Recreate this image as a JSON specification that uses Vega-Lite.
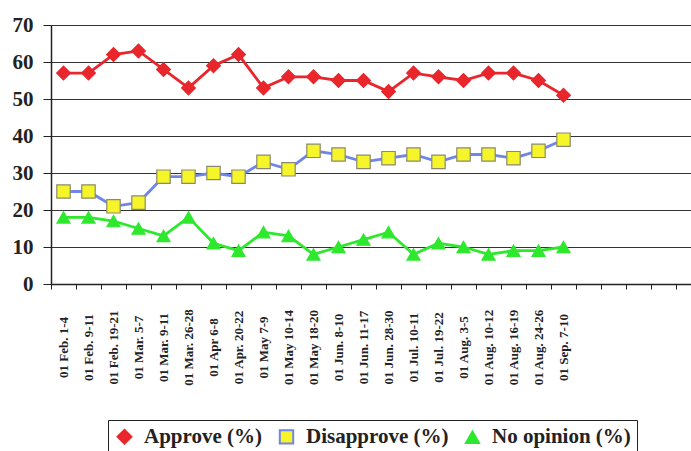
{
  "$schema": "https://vega.github.io/schema/vega-lite/v6.json",
  "width": 640,
  "height": 259,
  "autosize": {"type": "none"},
  "padding": {"left": 51, "top": 25, "right": 0, "bottom": 167},
  "background": "white",
  "config": {"view": {"stroke": null}, "font": "Liberation Serif"},
  "data": {"values": [
    {"date": "01 Feb. 1-4", "series": "Approve (%)", "value": 57},
    {"date": "01 Feb. 9-11", "series": "Approve (%)", "value": 57},
    {"date": "01 Feb. 19-21", "series": "Approve (%)", "value": 62},
    {"date": "01 Mar. 5-7", "series": "Approve (%)", "value": 63},
    {"date": "01 Mar. 9-11", "series": "Approve (%)", "value": 58},
    {"date": "01 Mar. 26-28", "series": "Approve (%)", "value": 53},
    {"date": "01 Apr 6-8", "series": "Approve (%)", "value": 59},
    {"date": "01 Apr. 20-22", "series": "Approve (%)", "value": 62},
    {"date": "01 May 7-9", "series": "Approve (%)", "value": 53},
    {"date": "01 May 10-14", "series": "Approve (%)", "value": 56},
    {"date": "01 May 18-20", "series": "Approve (%)", "value": 56},
    {"date": "01 Jun. 8-10", "series": "Approve (%)", "value": 55},
    {"date": "01 Jun. 11-17", "series": "Approve (%)", "value": 55},
    {"date": "01 Jun. 28-30", "series": "Approve (%)", "value": 52},
    {"date": "01 Jul. 10-11", "series": "Approve (%)", "value": 57},
    {"date": "01 Jul. 19-22", "series": "Approve (%)", "value": 56},
    {"date": "01 Aug. 3-5", "series": "Approve (%)", "value": 55},
    {"date": "01 Aug. 10-12", "series": "Approve (%)", "value": 57},
    {"date": "01 Aug. 16-19", "series": "Approve (%)", "value": 57},
    {"date": "01 Aug. 24-26", "series": "Approve (%)", "value": 55},
    {"date": "01 Sep. 7-10", "series": "Approve (%)", "value": 51},
    {"date": "01 Feb. 1-4", "series": "Disapprove (%)", "value": 25},
    {"date": "01 Feb. 9-11", "series": "Disapprove (%)", "value": 25},
    {"date": "01 Feb. 19-21", "series": "Disapprove (%)", "value": 21},
    {"date": "01 Mar. 5-7", "series": "Disapprove (%)", "value": 22},
    {"date": "01 Mar. 9-11", "series": "Disapprove (%)", "value": 29},
    {"date": "01 Mar. 26-28", "series": "Disapprove (%)", "value": 29},
    {"date": "01 Apr 6-8", "series": "Disapprove (%)", "value": 30},
    {"date": "01 Apr. 20-22", "series": "Disapprove (%)", "value": 29},
    {"date": "01 May 7-9", "series": "Disapprove (%)", "value": 33},
    {"date": "01 May 10-14", "series": "Disapprove (%)", "value": 31},
    {"date": "01 May 18-20", "series": "Disapprove (%)", "value": 36},
    {"date": "01 Jun. 8-10", "series": "Disapprove (%)", "value": 35},
    {"date": "01 Jun. 11-17", "series": "Disapprove (%)", "value": 33},
    {"date": "01 Jun. 28-30", "series": "Disapprove (%)", "value": 34},
    {"date": "01 Jul. 10-11", "series": "Disapprove (%)", "value": 35},
    {"date": "01 Jul. 19-22", "series": "Disapprove (%)", "value": 33},
    {"date": "01 Aug. 3-5", "series": "Disapprove (%)", "value": 35},
    {"date": "01 Aug. 10-12", "series": "Disapprove (%)", "value": 35},
    {"date": "01 Aug. 16-19", "series": "Disapprove (%)", "value": 34},
    {"date": "01 Aug. 24-26", "series": "Disapprove (%)", "value": 36},
    {"date": "01 Sep. 7-10", "series": "Disapprove (%)", "value": 39},
    {"date": "01 Feb. 1-4", "series": "No opinion (%)", "value": 18},
    {"date": "01 Feb. 9-11", "series": "No opinion (%)", "value": 18},
    {"date": "01 Feb. 19-21", "series": "No opinion (%)", "value": 17},
    {"date": "01 Mar. 5-7", "series": "No opinion (%)", "value": 15},
    {"date": "01 Mar. 9-11", "series": "No opinion (%)", "value": 13},
    {"date": "01 Mar. 26-28", "series": "No opinion (%)", "value": 18},
    {"date": "01 Apr 6-8", "series": "No opinion (%)", "value": 11},
    {"date": "01 Apr. 20-22", "series": "No opinion (%)", "value": 9},
    {"date": "01 May 7-9", "series": "No opinion (%)", "value": 14},
    {"date": "01 May 10-14", "series": "No opinion (%)", "value": 13},
    {"date": "01 May 18-20", "series": "No opinion (%)", "value": 8},
    {"date": "01 Jun. 8-10", "series": "No opinion (%)", "value": 10},
    {"date": "01 Jun. 11-17", "series": "No opinion (%)", "value": 12},
    {"date": "01 Jun. 28-30", "series": "No opinion (%)", "value": 14},
    {"date": "01 Jul. 10-11", "series": "No opinion (%)", "value": 8},
    {"date": "01 Jul. 19-22", "series": "No opinion (%)", "value": 11},
    {"date": "01 Aug. 3-5", "series": "No opinion (%)", "value": 10},
    {"date": "01 Aug. 10-12", "series": "No opinion (%)", "value": 8},
    {"date": "01 Aug. 16-19", "series": "No opinion (%)", "value": 9},
    {"date": "01 Aug. 24-26", "series": "No opinion (%)", "value": 9},
    {"date": "01 Sep. 7-10", "series": "No opinion (%)", "value": 10}
  ]},
  "encoding": {
    "x": {
      "field": "date",
      "type": "nominal",
      "scale": {
        "type": "band",
        "domain": ["01 Feb. 1-4", "01 Feb. 9-11", "01 Feb. 19-21", "01 Mar. 5-7", "01 Mar. 9-11", "01 Mar. 26-28", "01 Apr 6-8", "01 Apr. 20-22", "01 May 7-9", "01 May 10-14", "01 May 18-20", "01 Jun. 8-10", "01 Jun. 11-17", "01 Jun. 28-30", "01 Jul. 10-11", "01 Jul. 19-22", "01 Aug. 3-5", "01 Aug. 10-12", "01 Aug. 16-19", "01 Aug. 24-26", "01 Sep. 7-10", " ", "  ", "   ", "    "],
        "paddingInner": 0,
        "paddingOuter": 0.3,
        "align": 0
      },
      "axis": {
        "title": null,
        "labelAngle": 270,
        "labelAlign": "center",
        "labelBaseline": "middle",
        "labelPadding": 58,
        "labelFont": "Liberation Serif",
        "labelFontWeight": "bold",
        "labelFontSize": 13,
        "labelColor": "#222",
        "tickBand": "extent",
        "tickSize": 5,
        "tickColor": "#222",
        "domainColor": "#222",
        "domainWidth": 1.5,
        "labelOverlap": false,
        "grid": false
      }
    },
    "y": {
      "field": "value",
      "type": "quantitative",
      "scale": {"domain": [0, 70], "nice": false, "zero": true},
      "axis": {
        "title": null,
        "values": [0, 10, 20, 30, 40, 50, 60, 70],
        "labelFont": "Liberation Serif",
        "labelFontWeight": "bold",
        "labelFontSize": 21,
        "labelColor": "#222",
        "labelPadding": 10,
        "tickSize": 8,
        "tickColor": "#222",
        "domainColor": "#222",
        "domainWidth": 1.5,
        "grid": true,
        "gridColor": "#333",
        "gridWidth": 1.2
      }
    }
  },
  "layer": [
    {
      "mark": {"type": "line", "strokeWidth": 2.8},
      "encoding": {
        "color": {
          "field": "series",
          "type": "nominal",
          "scale": {"domain": ["Approve (%)", "Disapprove (%)", "No opinion (%)"], "range": ["#e8262b", "#6f86e8", "#2ee82e"]},
          "legend": {
            "title": null,
            "orient": "none",
            "direction": "horizontal",
            "legendX": 57,
            "legendY": 395,
            "strokeColor": "#222",
            "fillColor": "white",
            "padding": 6,
            "labelFont": "Liberation Serif",
            "labelFontWeight": "bold",
            "labelFontSize": 21,
            "labelColor": "#222",
            "labelOffset": 9,
            "columnPadding": 12,
            "symbolSize": 200,
            "symbolStrokeWidth": 2,
            "labelLimit": 300
          }
        }
      }
    },
    {
      "mark": {"type": "point", "opacity": 1, "strokeWidth": 1.2},
      "encoding": {
        "shape": {
          "field": "series",
          "type": "nominal",
          "scale": {"domain": ["Approve (%)", "Disapprove (%)", "No opinion (%)"], "range": ["diamond", "square", "triangle-up"]},
          "legend": null
        },
        "fill": {
          "field": "series",
          "type": "nominal",
          "scale": {"domain": ["Approve (%)", "Disapprove (%)", "No opinion (%)"], "range": ["#e8262b", "#f5f52a", "#2ee82e"]},
          "legend": null
        },
        "stroke": {
          "field": "series",
          "type": "nominal",
          "scale": {"domain": ["Approve (%)", "Disapprove (%)", "No opinion (%)"], "range": ["#e8262b", "#8a8a70", "#2ee82e"]},
          "legend": null
        },
        "size": {
          "field": "series",
          "type": "nominal",
          "scale": {"domain": ["Approve (%)", "Disapprove (%)", "No opinion (%)"], "range": [190, 170, 160]},
          "legend": null
        }
      }
    }
  ]
}
